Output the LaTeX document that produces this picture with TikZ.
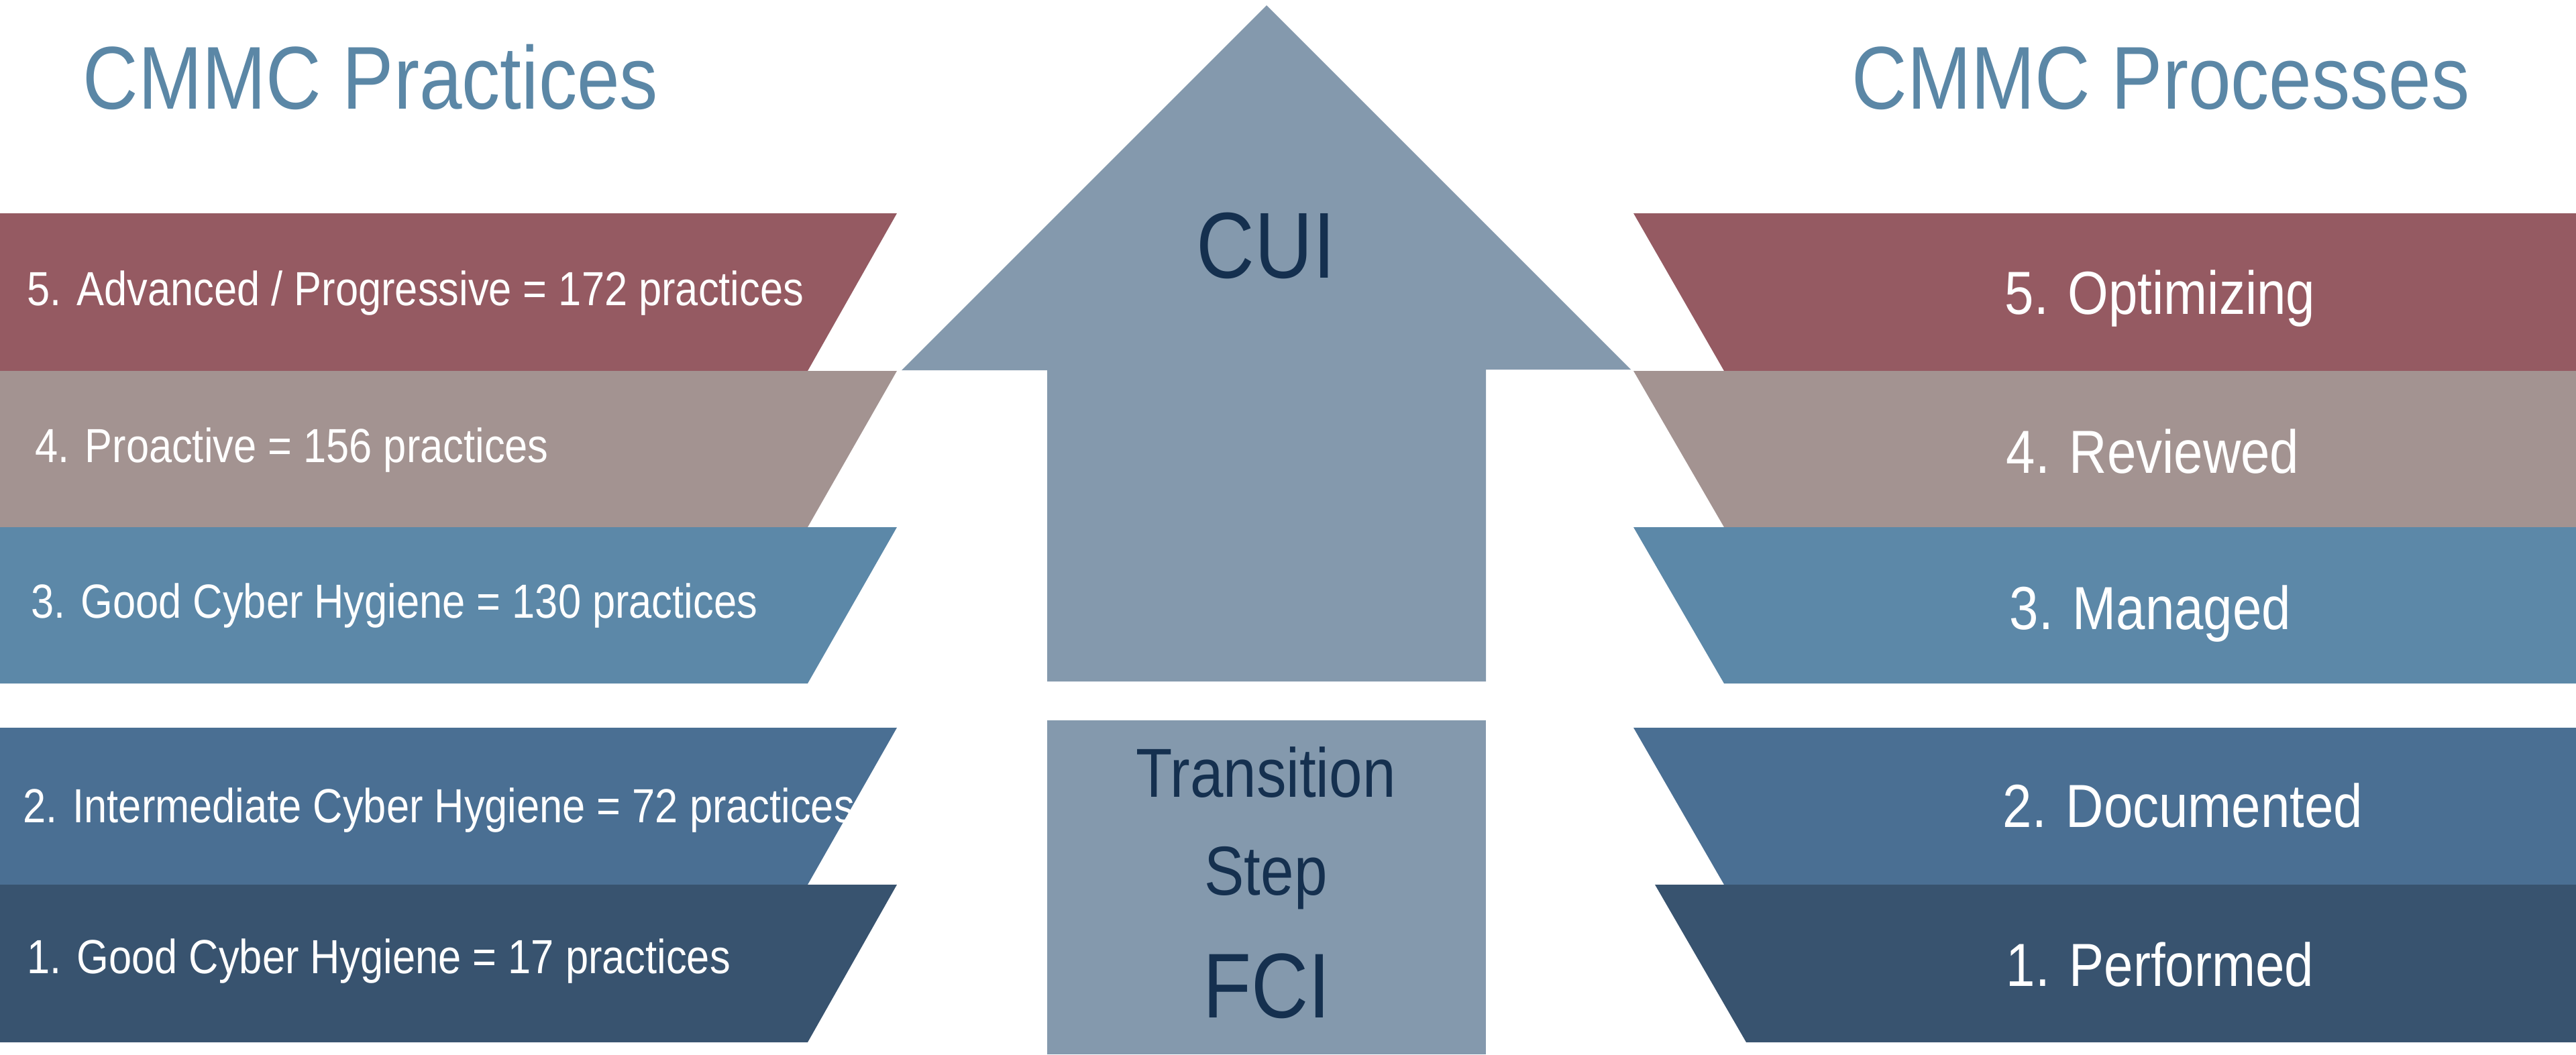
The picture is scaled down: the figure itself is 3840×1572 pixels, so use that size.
\documentclass[tikz,border=0pt]{standalone}
\usepackage{fontspec}
\setmainfont{Liberation Sans}[FakeStretch=0.86]
\definecolor{cFive}{HTML}{955A62}
\definecolor{cFour}{HTML}{A39391}
\definecolor{cThree}{HTML}{5C88A8}
\definecolor{cTwo}{HTML}{4A6F93}
\definecolor{cOne}{HTML}{38536F}
\definecolor{cArrow}{HTML}{8499AD}
\definecolor{cDark}{HTML}{15304F}
\definecolor{cTitle}{HTML}{5B87A6}
\tikzset{
  bandtext/.style={text=white, inner sep=0pt, anchor=base west, font=\fontsize{20.3}{24}\selectfont},
  proctext/.style={text=white, inner sep=0pt, anchor=base west, font=\fontsize{25.8}{30}\selectfont},
  titletext/.style={text=cTitle, inner sep=0pt, anchor=base west, font=\fontsize{37.8}{44}\selectfont},
  darktext/.style={text=cDark, inner sep=0pt, anchor=base},
}
\begin{document}
\begin{tikzpicture}[x=0.01cm,y=-0.01cm]
\useasboundingbox (0,0) rectangle (3840,1572);
% left bands
\fill[cFive]  (0,318)  -- (1337,318)  -- (1204,553)  -- (0,553)  -- cycle;
\fill[cFour]  (0,553)  -- (1337,553)  -- (1204,786)  -- (0,786)  -- cycle;
\fill[cThree] (0,786)  -- (1337,786)  -- (1204,1019) -- (0,1019) -- cycle;
\fill[cTwo]   (0,1085) -- (1337,1085) -- (1204,1319) -- (0,1319) -- cycle;
\fill[cOne]   (0,1319) -- (1337,1319) -- (1204,1554) -- (0,1554) -- cycle;
% right bands
\fill[cFive]  (2435,318)  -- (3840,318)  -- (3840,553)  -- (2570,553)  -- cycle;
\fill[cFour]  (2435,553)  -- (3840,553)  -- (3840,786)  -- (2570,786)  -- cycle;
\fill[cThree] (2435,786)  -- (3840,786)  -- (3840,1019) -- (2570,1019) -- cycle;
\fill[cTwo]   (2435,1085) -- (3840,1085) -- (3840,1319) -- (2570,1319) -- cycle;
\fill[cOne]   (2467,1319) -- (3840,1319) -- (3840,1554) -- (2603,1554) -- cycle;
% arrow
\fill[cArrow] (1888,8) -- (2431,551) -- (2215,551) -- (2215,1016) -- (1561,1016) -- (1561,552) -- (1344,552) -- cycle;
% transition box
\fill[cArrow] (1561,1074) rectangle (2215,1572);
% titles
\node[titletext] (tL) at (123,162) {CMMC Practices};
\node[titletext] (tR) at (2760,162) {CMMC Processes};
% left texts
\node[bandtext] (l5) at (40,455) {5. Advanced / Progressive = 172 practices};
\node[bandtext] (l4) at (52,689) {4. Proactive = 156 practices};
\node[bandtext] (l3) at (46,921) {3. Good Cyber Hygiene = 130 practices};
\node[bandtext] (l2) at (34,1226) {2. Intermediate Cyber Hygiene = 72 practices};
\node[bandtext] (l1) at (40,1451) {1. Good Cyber Hygiene = 17 practices};
% right texts
\node[proctext] (r5) at (2988,468) {5. Optimizing};
\node[proctext] (r4) at (2990,705) {4. Reviewed};
\node[proctext] (r3) at (2995,938) {3. Managed};
\node[proctext] (r2) at (2985,1233) {2. Documented};
\node[proctext] (r1) at (2990,1470) {1. Performed};
% center texts
\node[darktext, font=\fontsize{39.7}{46}\selectfont] (cui) at (1887,414) {CUI};
\node[darktext, font=\fontsize{29.4}{34}\selectfont] (trans) at (1887,1188) {Transition};
\node[darktext, font=\fontsize{29.4}{34}\selectfont] (step) at (1887,1334) {Step};
\node[darktext, font=\fontsize{39}{46}\selectfont] (fci) at (1888,1517) {FCI};
\end{tikzpicture}
\end{document}
